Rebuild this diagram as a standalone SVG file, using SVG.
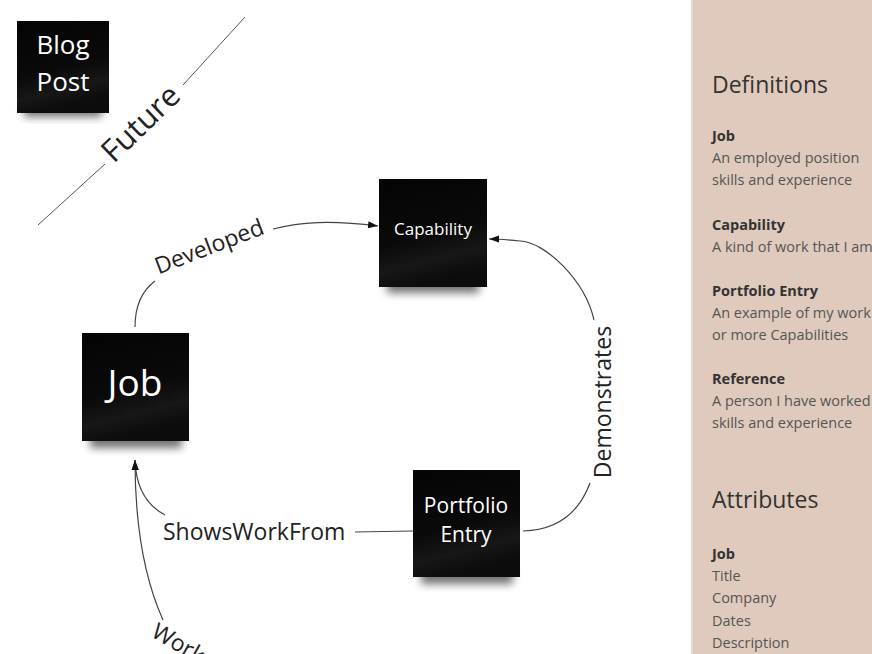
<svg xmlns="http://www.w3.org/2000/svg" width="872" height="654" viewBox="0 0 872 654">
<defs>
<filter id="blur" x="-20%" y="-50%" width="140%" height="200%"><feGaussianBlur stdDeviation="4"/></filter>
<linearGradient id="note" x1="0" y1="0" x2="0.25" y2="1">
<stop offset="0" stop-color="#040404"/>
<stop offset="0.6" stop-color="#0a0a0a"/>
<stop offset="0.82" stop-color="#171717"/>
<stop offset="1" stop-color="#0c0c0c"/>
</linearGradient>
<marker id="arr" viewBox="0 0 10 10" refX="10" refY="5" markerWidth="10" markerHeight="10" markerUnits="userSpaceOnUse" orient="auto">
<path d="M0,1.5 L10,5 L0,8.5 Z" fill="#111"/>
</marker>
<style>
.note{fill:url(#note)}
.shadow{fill:#000;opacity:.55;filter:url(#blur)}
.nt{font-family:"Open Sans","Liberation Sans",sans-serif;fill:#fff;text-anchor:middle}
.lbl{font-family:"Open Sans","Liberation Sans",sans-serif;fill:#222;font-size:23px}
.fut{font-size:31px}
.edge{fill:none;stroke:#444;stroke-width:1.2}
.h{font-family:"Open Sans","Liberation Sans",sans-serif;fill:#333;font-size:23px}
.b{font-family:"Open Sans","Liberation Sans",sans-serif;fill:#333;font-size:14.5px;font-weight:bold}
.t{font-family:"Open Sans","Liberation Sans",sans-serif;fill:#555;font-size:14.5px}
</style>
</defs>
<rect width="872" height="654" fill="#fff"/>
<g id="panel">
<rect x="691" y="0" width="181" height="654" fill="#e0cabd"/>
<rect x="691" y="0" width="2" height="654" fill="#e8d8ce"/>
<text class="h" x="712" y="93">Definitions</text>
<text class="b" x="712" y="141">Job</text>
<text class="t" x="712" y="163">An employed position</text>
<text class="t" x="712" y="185">skills and experience</text>
<text class="b" x="712" y="230">Capability</text>
<text class="t" x="712" y="252">A kind of work that I am</text>
<text class="b" x="712" y="296">Portfolio Entry</text>
<text class="t" x="712" y="318">An example of my work</text>
<text class="t" x="712" y="340">or more Capabilities</text>
<text class="b" x="712" y="384">Reference</text>
<text class="t" x="712" y="406">A person I have worked</text>
<text class="t" x="712" y="428">skills and experience</text>
<text class="h" x="712" y="508">Attributes</text>
<text class="b" x="712" y="559">Job</text>
<text class="t" x="712" y="581">Title</text>
<text class="t" x="712" y="603">Company</text>
<text class="t" x="712" y="626">Dates</text>
<text class="t" x="712" y="648">Description</text>
</g>
<g id="future">
<line x1="38" y1="225" x2="105" y2="164" stroke="#555" stroke-width="1"/>
<line x1="183" y1="85" x2="245" y2="17" stroke="#555" stroke-width="1"/>
<text class="lbl fut" text-anchor="middle" transform="translate(148,131) rotate(-44)">Future</text>
</g>
<g id="connectors">
<path class="edge" d="M135,327 C135,305 143,290 155,281"/>
<path class="edge" marker-end="url(#arr)" d="M273,229 C300,222 330,220 378,226"/>
<text class="lbl" text-anchor="middle" transform="translate(212,254) rotate(-21)">Developed</text>
<path class="edge" d="M594,320 C585,280 545,242 520,241"/>
<path class="edge" marker-end="url(#arr)" d="M520,241 C510,240 500,239 489,239"/>
<path class="edge" d="M590,483 C580,510 560,530 523,531"/>
<text class="lbl" text-anchor="middle" transform="translate(611,402) rotate(-90)">Demonstrates</text>
<path class="edge" d="M355,532 L413,531"/>
<text class="lbl" x="163" y="540">ShowsWorkFrom</text>
<path class="edge" marker-end="url(#arr)" d="M165,515 C150,507 136,492 135,460"/>
<path class="edge" marker-end="url(#arr)" d="M163,620 C145,580 135,530 135,460"/>
<text class="lbl" transform="translate(150,636) rotate(30)">Work</text>
</g>
<g id="blog-post">
<rect class="shadow" x="24" y="103" width="78" height="14"/>
<rect class="note" x="17" y="21" width="92" height="92"/>
<text class="nt" font-size="26" x="63" y="54">Blog</text>
<text class="nt" font-size="26" x="63" y="91">Post</text>
</g>
<g id="capability">
<rect class="shadow" x="387" y="277" width="92" height="16"/>
<rect class="note" x="379" y="179" width="108" height="108"/>
<text class="nt" font-size="17" x="433" y="235">Capability</text>
</g>
<g id="job">
<rect class="shadow" x="90" y="432" width="92" height="16"/>
<rect class="note" x="82" y="333" width="107" height="108"/>
<text class="nt" font-size="37" x="135" y="396">Job</text>
</g>
<g id="portfolio-entry">
<rect class="shadow" x="421" y="568" width="92" height="16"/>
<rect class="note" x="413" y="470" width="107" height="107"/>
<text class="nt" font-size="21" x="466" y="513">Portfolio</text>
<text class="nt" font-size="21" x="466" y="542">Entry</text>
</g>
</svg>
